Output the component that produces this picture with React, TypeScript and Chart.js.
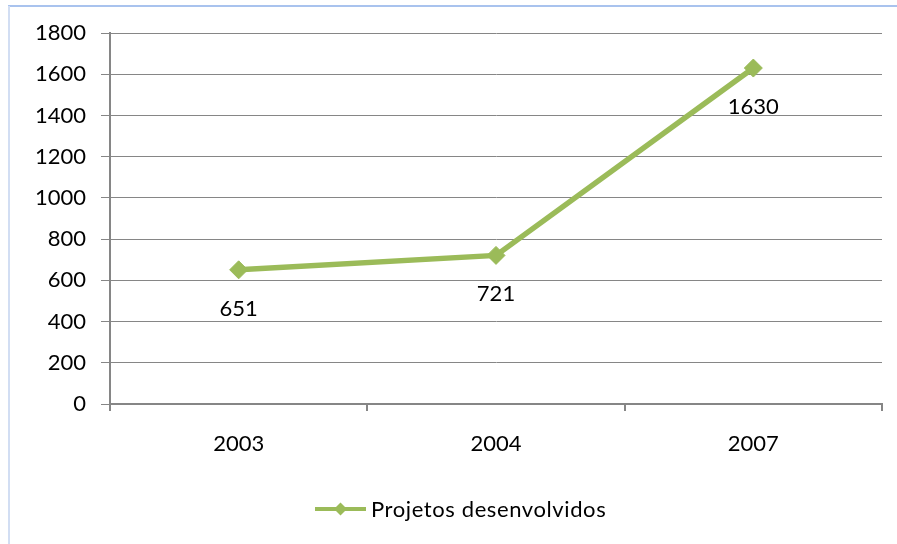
import React, { useEffect, useRef } from "react";
import { Chart, registerables } from "chart.js";

Chart.register(...registerables);

const categories = ["2003", "2004", "2007"];
const seriesName = "Projetos desenvolvidos";
const seriesValues = [651, 721, 1630];
const yTicks = [0, 200, 400, 600, 800, 1000, 1200, 1400, 1600, 1800];

const GREEN = "#9BBB59";
const GRID = "#868686";
const FONT = "Lato, 'Open Sans', sans-serif";
const FONT_SIZE = 22;

const framePlugin = {
  id: "frame",
  beforeDraw(chart: any) {
    const ctx = chart.ctx;
    ctx.save();
    ctx.fillStyle = "#ffffff";
    ctx.fillRect(0, 0, chart.width, chart.height);
    ctx.fillStyle = "#a9c3ee";
    ctx.fillRect(8, 5, chart.width - 8, 2);
    ctx.fillStyle = "#d2def3";
    ctx.fillRect(8, 6, 2, chart.height - 6);
    ctx.restore();
  },
};

const labelsPlugin = {
  id: "valueLabels",
  afterDatasetsDraw(chart: any) {
    const ctx = chart.ctx;
    const meta = chart.getDatasetMeta(0);
    ctx.save();
    ctx.font = `${FONT_SIZE}px ${FONT}`;
    ctx.fillStyle = "#000";
    ctx.textAlign = "center";
    ctx.textBaseline = "middle";
    meta.data.forEach((pt: any, i: number) => {
      ctx.fillText(String(seriesValues[i]), pt.x, pt.y + 39);
    });
    ctx.restore();
  },
};

const legendPlugin = {
  id: "customLegend",
  afterDraw(chart: any) {
    const ctx = chart.ctx;
    const y = 509;
    const x0 = 315;
    ctx.save();
    ctx.strokeStyle = GREEN;
    ctx.lineWidth = 4;
    ctx.beginPath();
    ctx.moveTo(x0, y);
    ctx.lineTo(x0 + 51, y);
    ctx.stroke();
    ctx.fillStyle = GREEN;
    ctx.beginPath();
    const cx = x0 + 25.5;
    const r = 6.5;
    ctx.moveTo(cx, y - r);
    ctx.lineTo(cx + r, y);
    ctx.lineTo(cx, y + r);
    ctx.lineTo(cx - r, y);
    ctx.closePath();
    ctx.fill();
    ctx.font = `${FONT_SIZE}px ${FONT}`;
    ctx.fillStyle = "#000";
    ctx.textAlign = "left";
    ctx.textBaseline = "middle";
    (ctx as any).letterSpacing = "0.6px";
    ctx.fillText(seriesName, 371, y + 1);
    ctx.restore();
  },
};

export default function App() {
  const ref = useRef<HTMLCanvasElement>(null);

  useEffect(() => {
    if (!ref.current) return;
    const chart = new Chart(ref.current, {
      type: "line",
      data: {
        labels: categories,
        datasets: [
          {
            label: seriesName,
            data: seriesValues,
            borderColor: GREEN,
            backgroundColor: GREEN,
            borderWidth: 5.5,
            pointStyle: "rectRot",
            pointRadius: 9,
            pointBorderWidth: 1,
            pointBackgroundColor: GREEN,
            pointBorderColor: GREEN,
            tension: 0,
          },
        ],
      },
      options: {
        animation: false,
        responsive: false,
        maintainAspectRatio: false,
        layout: { padding: { left: 0, right: 15, top: 33, bottom: 0 } },
        plugins: {
          legend: { display: false },
          tooltip: { enabled: false },
          title: { display: false },
        },
        scales: {
          x: {
            type: "category",
            offset: true,
            grid: {
              offset: true,
              drawOnChartArea: false,
              drawTicks: true,
              tickLength: 7,
              color: GRID,
              lineWidth: 2,
            },
            border: { display: true, color: GRID, width: 2 },
            ticks: {
              color: "#000",
              font: { family: FONT, size: FONT_SIZE },
              padding: 20,
              maxRotation: 0,
            },
            afterFit(scale: any) {
              scale.height = 140;
            },
          },
          y: {
            min: 0,
            max: 1800,
            afterBuildTicks(scale: any) {
              scale.ticks = yTicks.map((v) => ({ value: v }));
            },
            grid: {
              color: GRID,
              lineWidth: 1,
              drawTicks: true,
              tickLength: 9,
            },
            border: { display: true, color: GRID, width: 2 },
            ticks: {
              color: "#000",
              font: { family: FONT, size: FONT_SIZE },
              padding: 15,
              callback: (v: any) => String(v),
            },
            afterFit(scale: any) {
              scale.width = 110;
            },
          },
        },
      },
      plugins: [framePlugin, labelsPlugin, legendPlugin],
    });
    return () => chart.destroy();
  }, []);

  return (
    <div style={{ position: "fixed", left: 0, top: 0, width: 897, height: 544, background: "#fff" }}>
      <canvas ref={ref} width={897} height={544} style={{ width: 897, height: 544, display: "block" }} />
    </div>
  );
}
